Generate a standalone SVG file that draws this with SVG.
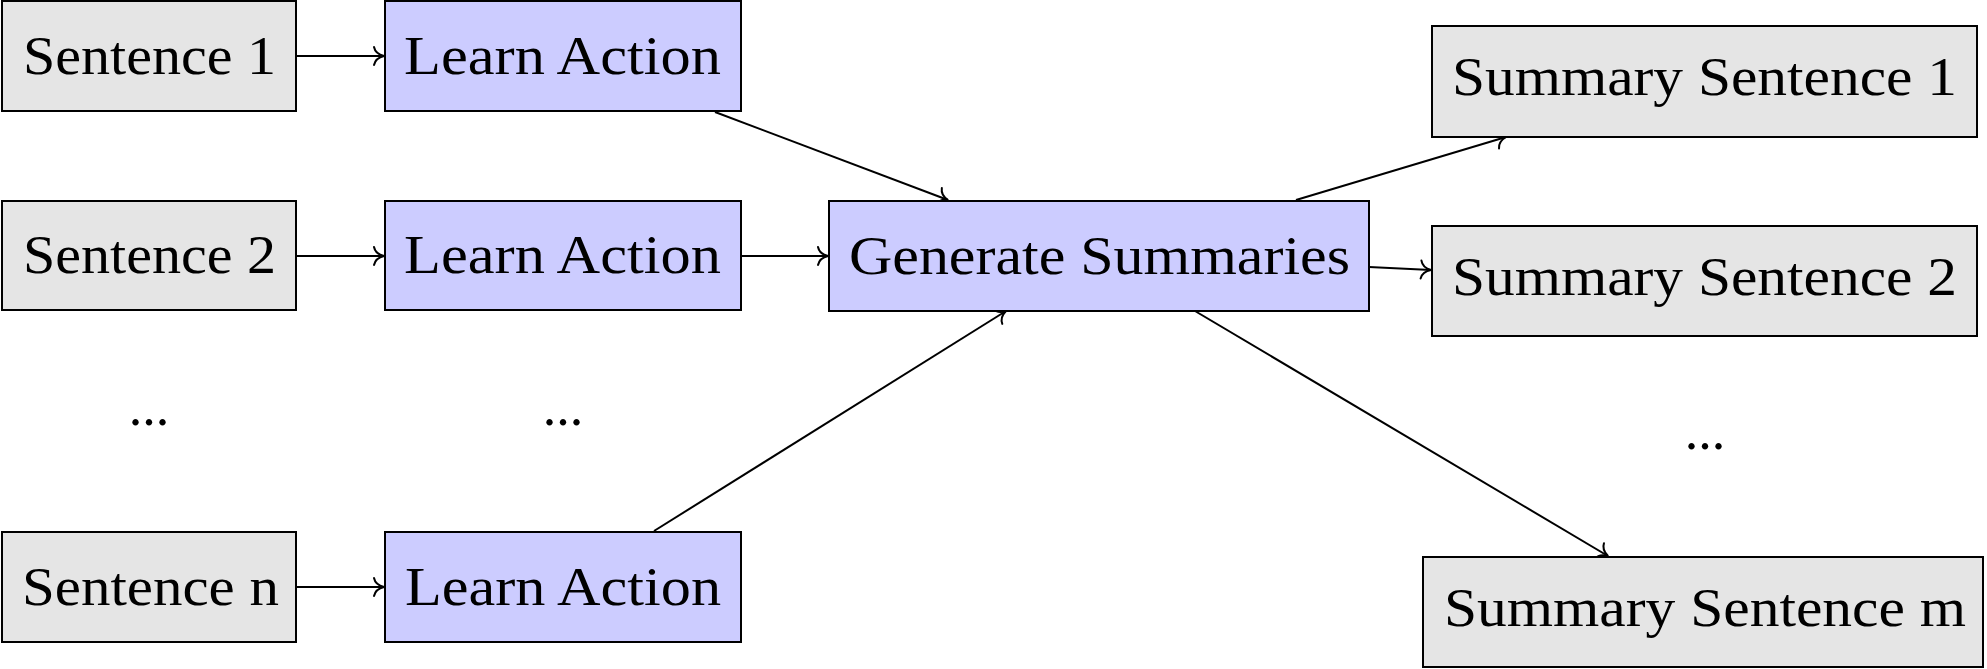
<svg xmlns="http://www.w3.org/2000/svg" width="1987" height="669" viewBox="0 0 1987 669">
<style>
.gray{fill:#e5e5e5;stroke:#000;stroke-width:2}
.blue{fill:#ccccff;stroke:#000;stroke-width:2}
.t{font-family:"Liberation Serif","Times New Roman",serif;font-size:54px;fill:#000}
.c{fill:none;stroke:#000;stroke-width:2}
</style>
<defs>
<marker id="ah" markerUnits="userSpaceOnUse" viewBox="-13 -11 15 22" markerWidth="15" markerHeight="22" refX="0" refY="0" orient="auto">
<path d="M-10,-9 C-9,-4 -4,-1 0,0 C-4,1 -9,4 -10,9" fill="none" stroke="#000" stroke-width="2" stroke-linecap="round"/>
</marker>
</defs>
<rect width="1987" height="669" fill="#fff"/>
<g id="connectors">
<line class="c" x1="296" y1="56" x2="384" y2="56" marker-end="url(#ah)"/>
<line class="c" x1="296" y1="256" x2="384" y2="256" marker-end="url(#ah)"/>
<line class="c" x1="296" y1="587" x2="384" y2="587" marker-end="url(#ah)"/>
<line class="c" x1="741" y1="256" x2="828" y2="256" marker-end="url(#ah)"/>
<line class="c" x1="715" y1="112" x2="948" y2="200" marker-end="url(#ah)"/>
<line class="c" x1="654" y1="531" x2="1006" y2="311" marker-end="url(#ah)"/>
<line class="c" x1="1296" y1="200" x2="1506" y2="137" marker-end="url(#ah)"/>
<line class="c" x1="1369" y1="267" x2="1431" y2="270" marker-end="url(#ah)"/>
<line class="c" x1="1195" y1="311" x2="1608" y2="556" marker-end="url(#ah)"/>
</g>
<g id="sentence1"><rect class="gray" x="2" y="1" width="294" height="110"/><text class="t" x="23" y="74" textLength="253" lengthAdjust="spacingAndGlyphs">Sentence 1</text></g>
<g id="sentence2"><rect class="gray" x="2" y="201" width="294" height="109"/><text class="t" x="23" y="273" textLength="253" lengthAdjust="spacingAndGlyphs">Sentence 2</text></g>
<g id="sentencen"><rect class="gray" x="2" y="532" width="294" height="110"/><text class="t" x="22" y="605" textLength="257" lengthAdjust="spacingAndGlyphs">Sentence n</text></g>
<g id="learn1"><rect class="blue" x="385" y="1" width="356" height="110"/><text class="t" x="404" y="74" textLength="317" lengthAdjust="spacingAndGlyphs">Learn Action</text></g>
<g id="learn2"><rect class="blue" x="385" y="201" width="356" height="109"/><text class="t" x="404" y="273" textLength="317" lengthAdjust="spacingAndGlyphs">Learn Action</text></g>
<g id="learnn"><rect class="blue" x="385" y="532" width="356" height="110"/><text class="t" x="405" y="605" textLength="316" lengthAdjust="spacingAndGlyphs">Learn Action</text></g>
<g id="generate"><rect class="blue" x="829" y="201" width="540" height="110"/><text class="t" x="849" y="274" textLength="501" lengthAdjust="spacingAndGlyphs">Generate Summaries</text></g>
<g id="summary1"><rect class="gray" x="1432" y="26" width="545" height="111"/><text class="t" x="1452" y="95" textLength="505" lengthAdjust="spacingAndGlyphs">Summary Sentence 1</text></g>
<g id="summary2"><rect class="gray" x="1432" y="226" width="545" height="110"/><text class="t" x="1452" y="295" textLength="505" lengthAdjust="spacingAndGlyphs">Summary Sentence 2</text></g>
<g id="summarym"><rect class="gray" x="1423" y="557" width="560" height="110"/><text class="t" x="1444" y="626" textLength="522" lengthAdjust="spacingAndGlyphs">Summary Sentence m</text></g>
<g id="dots">
<text class="t" x="149" y="425" text-anchor="middle">...</text>
<text class="t" x="563" y="425" text-anchor="middle">...</text>
<text class="t" x="1705" y="449" text-anchor="middle">...</text>
</g>
</svg>
